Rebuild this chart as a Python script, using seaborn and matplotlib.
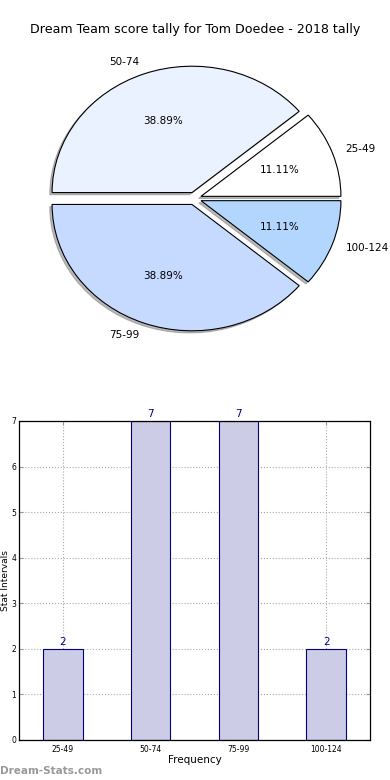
import matplotlib
matplotlib.use("Agg")
import matplotlib.pyplot as plt
import seaborn as sns
import pandas as pd

# Score intervals and how many games fell in each
intervals = ["25-49", "50-74", "75-99", "100-124"]
counts = [2, 7, 7, 2]
pie_colors = ["#FFFFFF", "#EAF1FF", "#C6D9FF", "#B3D6FF"]
explode = [0.05, 0.05, 0.05, 0.05]

title = "Dream Team score tally for Tom Doedee - 2018 tally"

df = pd.DataFrame({"interval": intervals, "count": counts})

fig = plt.figure(figsize=(3.9, 7.8), dpi=100)

# Pie chart (top)
ax_pie = fig.add_axes([0.05, 0.543, 0.897, 0.405])
ax_pie.pie(counts, labels=intervals, colors=pie_colors, explode=explode,
           autopct="%1.2f%%", shadow={"ox": -0.012, "oy": -0.012, "color": "#777777"},
           startangle=0, labeldistance=1.1,
           wedgeprops={"edgecolor": "black", "linewidth": 0.8},
           textprops={"fontsize": 7.5})
ax_pie.set_aspect("auto")
ax_pie.set_xlim(-1.25, 1.25)
ax_pie.set_ylim(-1.25, 1.25)
fig.text(0.5, 1 - 30 / 780, title, ha="center", va="center", fontsize=9.1)

# Bar chart (bottom)
ax_bar = fig.add_axes([0.0487, 0.0513, 0.9, 0.409])
sns.barplot(data=df, x="interval", y="count", color="#CCCCE6", saturation=1,
            edgecolor="navy", linewidth=0.8, width=0.45, ax=ax_bar, zorder=2)
for i, v in enumerate(counts):
    ax_bar.text(i, v + 0.05, str(v), ha="center", va="bottom",
                color="navy", fontsize=7.5)
ax_bar.set_xlim(-0.5, 3.5)
ax_bar.set_ylim(0, 7)
ax_bar.set_yticks(range(0, 8))
ax_bar.grid(True, linestyle=":", color="#AAAAAA", linewidth=0.8, zorder=0)
ax_bar.set_axisbelow(True)
ax_bar.tick_params(direction="in", top=True, right=True, labelsize=5.5,
                   length=3, color="#999999")
ax_bar.tick_params(axis="y", pad=2)
ax_bar.set_xlabel("Frequency", fontsize=7.5, labelpad=1)
ax_bar.set_ylabel("Stat Intervals", fontsize=6.5)
ax_bar.yaxis.set_label_coords(-0.027, 0.5)
for s in ax_bar.spines.values():
    s.set_color("black")
    s.set_linewidth(0.9)

fig.text(0.0, 1 - 771 / 780, "Dream-Stats.com", ha="left", va="center",
         fontsize=7.5, color="#999999", fontweight="bold")

fig.savefig("out.png", dpi=100)
